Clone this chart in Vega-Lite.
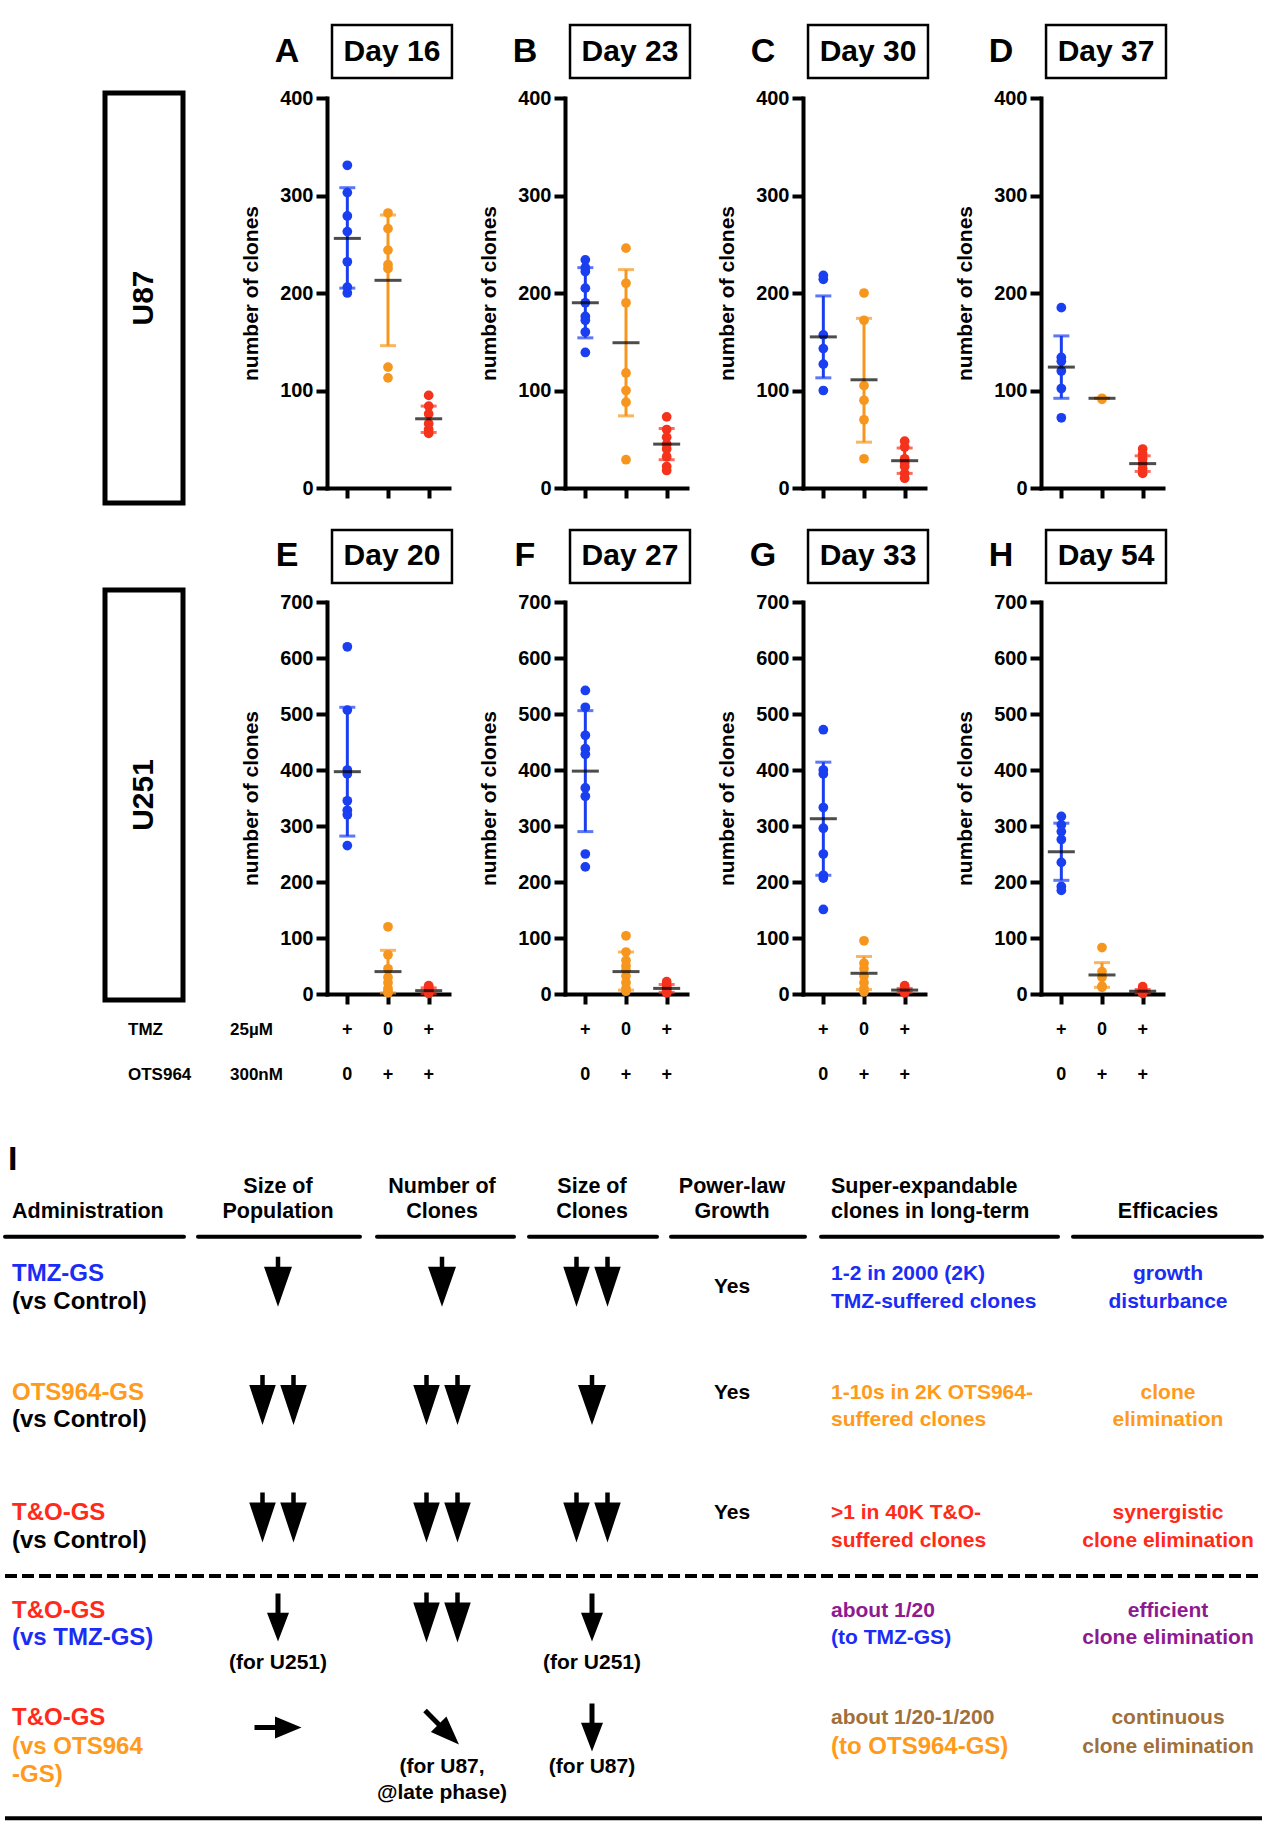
{
"$schema":"https://vega.github.io/schema/vega-lite/v6.json",
"width":1266,"height":1825,"autosize":{"type":"none"},"padding":0,"background":"white",
"config":{"font":"Liberation Sans","view":{"stroke":null},
"text":{"fontWeight":"bold","color":"black"},
"axisY":{"domainWidth":4,"domainColor":"#000","domainCap":"square","tickWidth":4,"tickColor":"#000","tickSize":11,"labelFontSize":20,"labelFontWeight":"bold","labelColor":"#000","labelPadding":3,"titleFontSize":21,"titleFontWeight":"bold","titleColor":"#000","titlePadding":18,"grid":false},
"axisX":{"domainWidth":4,"domainColor":"#000","domainCap":"square","tickWidth":4,"tickColor":"#000","tickSize":10,"labels":false,"grid":false}},
"datasets":{
"pts":[
{"panel":"A","group":"TMZ","value":331},{"panel":"A","group":"TMZ","value":303},{"panel":"A","group":"TMZ","value":279},{"panel":"A","group":"TMZ","value":263},{"panel":"A","group":"TMZ","value":232},{"panel":"A","group":"TMZ","value":206},{"panel":"A","group":"TMZ","value":200},
{"panel":"A","group":"OTS964","value":282},{"panel":"A","group":"OTS964","value":266},{"panel":"A","group":"OTS964","value":244},{"panel":"A","group":"OTS964","value":229},{"panel":"A","group":"OTS964","value":225},{"panel":"A","group":"OTS964","value":124},{"panel":"A","group":"OTS964","value":113},
{"panel":"A","group":"T&O","value":95},{"panel":"A","group":"T&O","value":84},{"panel":"A","group":"T&O","value":76},{"panel":"A","group":"T&O","value":66},{"panel":"A","group":"T&O","value":60},{"panel":"A","group":"T&O","value":56},
{"panel":"B","group":"TMZ","value":234},{"panel":"B","group":"TMZ","value":226},{"panel":"B","group":"TMZ","value":222},{"panel":"B","group":"TMZ","value":205},{"panel":"B","group":"TMZ","value":190},{"panel":"B","group":"TMZ","value":176},{"panel":"B","group":"TMZ","value":172},{"panel":"B","group":"TMZ","value":160},{"panel":"B","group":"TMZ","value":139},
{"panel":"B","group":"OTS964","value":246},{"panel":"B","group":"OTS964","value":210},{"panel":"B","group":"OTS964","value":190},{"panel":"B","group":"OTS964","value":118},{"panel":"B","group":"OTS964","value":100},{"panel":"B","group":"OTS964","value":88},{"panel":"B","group":"OTS964","value":29},
{"panel":"B","group":"T&O","value":73},{"panel":"B","group":"T&O","value":60},{"panel":"B","group":"T&O","value":52},{"panel":"B","group":"T&O","value":45},{"panel":"B","group":"T&O","value":40},{"panel":"B","group":"T&O","value":32},{"panel":"B","group":"T&O","value":22},{"panel":"B","group":"T&O","value":18},
{"panel":"C","group":"TMZ","value":218},{"panel":"C","group":"TMZ","value":214},{"panel":"C","group":"TMZ","value":157},{"panel":"C","group":"TMZ","value":143},{"panel":"C","group":"TMZ","value":127},{"panel":"C","group":"TMZ","value":100},
{"panel":"C","group":"OTS964","value":200},{"panel":"C","group":"OTS964","value":172},{"panel":"C","group":"OTS964","value":105},{"panel":"C","group":"OTS964","value":90},{"panel":"C","group":"OTS964","value":70},{"panel":"C","group":"OTS964","value":30},
{"panel":"C","group":"T&O","value":48},{"panel":"C","group":"T&O","value":42},{"panel":"C","group":"T&O","value":30},{"panel":"C","group":"T&O","value":26},{"panel":"C","group":"T&O","value":22},{"panel":"C","group":"T&O","value":15},{"panel":"C","group":"T&O","value":10},
{"panel":"D","group":"TMZ","value":185},{"panel":"D","group":"TMZ","value":134},{"panel":"D","group":"TMZ","value":130},{"panel":"D","group":"TMZ","value":120},{"panel":"D","group":"TMZ","value":102},{"panel":"D","group":"TMZ","value":72},
{"panel":"D","group":"OTS964","value":92},{"panel":"D","group":"OTS964","value":91},
{"panel":"D","group":"T&O","value":40},{"panel":"D","group":"T&O","value":35},{"panel":"D","group":"T&O","value":30},{"panel":"D","group":"T&O","value":25},{"panel":"D","group":"T&O","value":20},{"panel":"D","group":"T&O","value":15},
{"panel":"E","group":"TMZ","value":620},{"panel":"E","group":"TMZ","value":507},{"panel":"E","group":"TMZ","value":400},{"panel":"E","group":"TMZ","value":393},{"panel":"E","group":"TMZ","value":345},{"panel":"E","group":"TMZ","value":328},{"panel":"E","group":"TMZ","value":320},{"panel":"E","group":"TMZ","value":265},
{"panel":"E","group":"OTS964","value":120},{"panel":"E","group":"OTS964","value":70},{"panel":"E","group":"OTS964","value":45},{"panel":"E","group":"OTS964","value":30},{"panel":"E","group":"OTS964","value":20},{"panel":"E","group":"OTS964","value":10},{"panel":"E","group":"OTS964","value":5},{"panel":"E","group":"OTS964","value":2},
{"panel":"E","group":"T&O","value":15},{"panel":"E","group":"T&O","value":12},{"panel":"E","group":"T&O","value":8},{"panel":"E","group":"T&O","value":5},{"panel":"E","group":"T&O","value":3},{"panel":"E","group":"T&O","value":1},
{"panel":"F","group":"TMZ","value":542},{"panel":"F","group":"TMZ","value":512},{"panel":"F","group":"TMZ","value":462},{"panel":"F","group":"TMZ","value":438},{"panel":"F","group":"TMZ","value":428},{"panel":"F","group":"TMZ","value":368},{"panel":"F","group":"TMZ","value":353},{"panel":"F","group":"TMZ","value":250},{"panel":"F","group":"TMZ","value":227},
{"panel":"F","group":"OTS964","value":104},{"panel":"F","group":"OTS964","value":75},{"panel":"F","group":"OTS964","value":60},{"panel":"F","group":"OTS964","value":50},{"panel":"F","group":"OTS964","value":42},{"panel":"F","group":"OTS964","value":32},{"panel":"F","group":"OTS964","value":20},{"panel":"F","group":"OTS964","value":10},{"panel":"F","group":"OTS964","value":5},
{"panel":"F","group":"T&O","value":22},{"panel":"F","group":"T&O","value":16},{"panel":"F","group":"T&O","value":12},{"panel":"F","group":"T&O","value":8},{"panel":"F","group":"T&O","value":5},{"panel":"F","group":"T&O","value":2},
{"panel":"G","group":"TMZ","value":472},{"panel":"G","group":"TMZ","value":400},{"panel":"G","group":"TMZ","value":393},{"panel":"G","group":"TMZ","value":333},{"panel":"G","group":"TMZ","value":296},{"panel":"G","group":"TMZ","value":250},{"panel":"G","group":"TMZ","value":212},{"panel":"G","group":"TMZ","value":207},{"panel":"G","group":"TMZ","value":151},
{"panel":"G","group":"OTS964","value":95},{"panel":"G","group":"OTS964","value":55},{"panel":"G","group":"OTS964","value":45},{"panel":"G","group":"OTS964","value":32},{"panel":"G","group":"OTS964","value":20},{"panel":"G","group":"OTS964","value":10},{"panel":"G","group":"OTS964","value":4},
{"panel":"G","group":"T&O","value":15},{"panel":"G","group":"T&O","value":10},{"panel":"G","group":"T&O","value":6},{"panel":"G","group":"T&O","value":3},{"panel":"G","group":"T&O","value":2},
{"panel":"H","group":"TMZ","value":317},{"panel":"H","group":"TMZ","value":302},{"panel":"H","group":"TMZ","value":290},{"panel":"H","group":"TMZ","value":276},{"panel":"H","group":"TMZ","value":235},{"panel":"H","group":"TMZ","value":192},{"panel":"H","group":"TMZ","value":185},
{"panel":"H","group":"OTS964","value":83},{"panel":"H","group":"OTS964","value":40},{"panel":"H","group":"OTS964","value":30},{"panel":"H","group":"OTS964","value":14},{"panel":"H","group":"OTS964","value":12},
{"panel":"H","group":"T&O","value":13},{"panel":"H","group":"T&O","value":8},{"panel":"H","group":"T&O","value":5},{"panel":"H","group":"T&O","value":3},{"panel":"H","group":"T&O","value":1}
],
"summ":[
{"panel":"A","group":"TMZ","mean":256,"lo":205,"hi":308},{"panel":"A","group":"OTS964","mean":213,"lo":146,"hi":280},{"panel":"A","group":"T&O","mean":71,"lo":57,"hi":84},
{"panel":"B","group":"TMZ","mean":190,"lo":154,"hi":226},{"panel":"B","group":"OTS964","mean":149,"lo":74,"hi":224},{"panel":"B","group":"T&O","mean":45,"lo":29,"hi":61},
{"panel":"C","group":"TMZ","mean":155,"lo":113,"hi":197},{"panel":"C","group":"OTS964","mean":111,"lo":47,"hi":174},{"panel":"C","group":"T&O","mean":28,"lo":15,"hi":41},
{"panel":"D","group":"TMZ","mean":124,"lo":92,"hi":156},{"panel":"D","group":"OTS964","mean":92,"lo":92,"hi":92},{"panel":"D","group":"T&O","mean":25,"lo":17,"hi":33},
{"panel":"E","group":"TMZ","mean":397,"lo":282,"hi":512},{"panel":"E","group":"OTS964","mean":40,"lo":2,"hi":78},{"panel":"E","group":"T&O","mean":6,"lo":1,"hi":11},
{"panel":"F","group":"TMZ","mean":398,"lo":290,"hi":506},{"panel":"F","group":"OTS964","mean":40,"lo":7,"hi":75},{"panel":"F","group":"T&O","mean":10,"lo":3,"hi":17},
{"panel":"G","group":"TMZ","mean":313,"lo":212,"hi":414},{"panel":"G","group":"OTS964","mean":37,"lo":8,"hi":67},{"panel":"G","group":"T&O","mean":7,"lo":3,"hi":10},
{"panel":"H","group":"TMZ","mean":254,"lo":203,"hi":305},{"panel":"H","group":"OTS964","mean":34,"lo":12,"hi":56},{"panel":"H","group":"T&O","mean":5,"lo":2,"hi":8}
],
"hdr":[{"panel":"A","col":"c1","row":"U87","letter":"A","day":"Day 16"},{"panel":"B","col":"c2","row":"U87","letter":"B","day":"Day 23"},{"panel":"C","col":"c3","row":"U87","letter":"C","day":"Day 30"},{"panel":"D","col":"c4","row":"U87","letter":"D","day":"Day 37"},{"panel":"E","col":"c1","row":"U251","letter":"E","day":"Day 20"},{"panel":"F","col":"c2","row":"U251","letter":"F","day":"Day 27"},{"panel":"G","col":"c3","row":"U251","letter":"G","day":"Day 33"},{"panel":"H","col":"c4","row":"U251","letter":"H","day":"Day 54"}],
"cells":[{"cell":"U87"},{"cell":"U251"}],
"tmzL":[{"factor":"TMZ","part":"name","label":"TMZ"},{"factor":"TMZ","part":"dose","label":"25µM"},{"factor":"OTS964","part":"name","label":"OTS964"},{"factor":"OTS964","part":"dose","label":"300nM"}],
"tmz":[{"group":"TMZ","factor":"TMZ","sign":"+"},{"group":"TMZ","factor":"OTS964","sign":"0"},{"group":"OTS964","factor":"TMZ","sign":"0"},{"group":"OTS964","factor":"OTS964","sign":"+"},{"group":"T&O","factor":"TMZ","sign":"+"},{"group":"T&O","factor":"OTS964","sign":"+"}],
"tbl":[
{"sec":"letter","col":0,"ln":0,"text":"I","tone":"black"},
{"sec":"head","col":0,"ln":2,"text":"Administration","tone":"black"},
{"sec":"head","col":1,"ln":1,"text":"Size of","tone":"black"},
{"sec":"head","col":1,"ln":2,"text":"Population","tone":"black"},
{"sec":"head","col":2,"ln":1,"text":"Number of","tone":"black"},
{"sec":"head","col":2,"ln":2,"text":"Clones","tone":"black"},
{"sec":"head","col":3,"ln":1,"text":"Size of","tone":"black"},
{"sec":"head","col":3,"ln":2,"text":"Clones","tone":"black"},
{"sec":"head","col":4,"ln":1,"text":"Power-law","tone":"black"},
{"sec":"head","col":4,"ln":2,"text":"Growth","tone":"black"},
{"sec":"head","col":5,"ln":1,"text":"Super-expandable","tone":"black"},
{"sec":"head","col":5,"ln":2,"text":"clones in long-term","tone":"black"},
{"sec":"head","col":6,"ln":2,"text":"Efficacies","tone":"black"},
{"sec":"label","col":0,"ln":4,"text":"TMZ-GS","tone":"blue"},
{"sec":"label","col":0,"ln":7,"text":"(vs Control)","tone":"black"},
{"sec":"label","col":0,"ln":8,"text":"OTS964-GS","tone":"orange"},
{"sec":"label","col":0,"ln":10,"text":"(vs Control)","tone":"black"},
{"sec":"label","col":0,"ln":11,"text":"T&O-GS","tone":"red"},
{"sec":"label","col":0,"ln":13,"text":"(vs Control)","tone":"black"},
{"sec":"label","col":0,"ln":15,"text":"T&O-GS","tone":"red"},
{"sec":"label","col":0,"ln":17,"text":"(vs TMZ-GS)","tone":"blue"},
{"sec":"label","col":0,"ln":19,"text":"T&O-GS","tone":"red"},
{"sec":"label","col":0,"ln":21,"text":"(vs OTS964","tone":"orange"},
{"sec":"label","col":0,"ln":23,"text":"-GS)","tone":"orange"},
{"sec":"body","col":4,"ln":6,"text":"Yes","tone":"black"},
{"sec":"body","col":4,"ln":8,"text":"Yes","tone":"black"},
{"sec":"body","col":4,"ln":11,"text":"Yes","tone":"black"},
{"sec":"body","col":5,"ln":4,"text":"1-2 in 2000 (2K)","tone":"blue"},
{"sec":"body","col":5,"ln":7,"text":"TMZ-suffered clones","tone":"blue"},
{"sec":"body","col":5,"ln":8,"text":"1-10s in 2K OTS964-","tone":"orange"},
{"sec":"body","col":5,"ln":10,"text":"suffered clones","tone":"orange"},
{"sec":"body","col":5,"ln":11,"text":">1 in 40K T&O-","tone":"red"},
{"sec":"body","col":5,"ln":13,"text":"suffered clones","tone":"red"},
{"sec":"body","col":5,"ln":15,"text":"about 1/20","tone":"purple"},
{"sec":"body","col":5,"ln":17,"text":"(to TMZ-GS)","tone":"blue"},
{"sec":"body","col":5,"ln":19,"text":"about 1/20-1/200","tone":"brown"},
{"sec":"big","col":5,"ln":21,"text":"(to OTS964-GS)","tone":"orange"},
{"sec":"body","col":6,"ln":4,"text":"growth","tone":"blue"},
{"sec":"body","col":6,"ln":7,"text":"disturbance","tone":"blue"},
{"sec":"body","col":6,"ln":8,"text":"clone","tone":"orange"},
{"sec":"body","col":6,"ln":10,"text":"elimination","tone":"orange"},
{"sec":"body","col":6,"ln":11,"text":"synergistic","tone":"red"},
{"sec":"body","col":6,"ln":13,"text":"clone elimination","tone":"red"},
{"sec":"body","col":6,"ln":15,"text":"efficient","tone":"purple"},
{"sec":"body","col":6,"ln":17,"text":"clone elimination","tone":"purple"},
{"sec":"body","col":6,"ln":19,"text":"continuous","tone":"brown"},
{"sec":"body","col":6,"ln":21,"text":"clone elimination","tone":"brown"},
{"sec":"body","col":1,"ln":18,"text":"(for U251)","tone":"black"},
{"sec":"body","col":3,"ln":18,"text":"(for U251)","tone":"black"},
{"sec":"body","col":2,"ln":22,"text":"(for U87,","tone":"black"},
{"sec":"body","col":2,"ln":24,"text":"@late phase)","tone":"black"},
{"sec":"body","col":3,"ln":22,"text":"(for U87)","tone":"black"}
],
"arrows":[
{"col":1,"ln":5,"arrow":"down1"},{"col":2,"ln":5,"arrow":"down1"},{"col":3,"ln":5,"arrow":"down2"},
{"col":1,"ln":9,"arrow":"down2"},{"col":2,"ln":9,"arrow":"down2"},{"col":3,"ln":9,"arrow":"down1"},
{"col":1,"ln":12,"arrow":"down2"},{"col":2,"ln":12,"arrow":"down2"},{"col":3,"ln":12,"arrow":"down2"},
{"col":1,"ln":16,"arrow":"thin"},{"col":2,"ln":16,"arrow":"down2"},{"col":3,"ln":16,"arrow":"thin"},
{"col":1,"ln":20,"arrow":"right"},{"col":2,"ln":20,"arrow":"diag"},{"col":3,"ln":20,"arrow":"thin"}
],
"rules":[
{"kind":"head","a":0,"b":1,"ln":3},{"kind":"head","a":2,"b":3,"ln":3},{"kind":"head","a":4,"b":5,"ln":3},{"kind":"head","a":6,"b":7,"ln":3},{"kind":"head","a":8,"b":9,"ln":3},{"kind":"head","a":10,"b":11,"ln":3},{"kind":"head","a":12,"b":13,"ln":3},
{"kind":"dash","a":0,"b":13,"ln":14},{"kind":"foot","a":0,"b":13,"ln":25}
]
},
"resolve":{"scale":{"x":"independent","y":"independent","color":"independent","shape":"independent"}},
"layer":[
{"layer":[
 {"data":{"name":"summ"},"transform":[{"filter":"datum.panel==='A'"}],"mark":{"type":"rule","strokeWidth":3},"encoding":{"x":{"field":"group","type":"nominal","title":null,"scale":{"type":"point","domain":["TMZ","OTS964","T&O"],"range":[327,449],"padding":0.5},"axis":{"orient":"bottom","offset":-1337,"labels":false,"title":null}},"y":{"field":"lo","type":"quantitative","title":"number of clones","scale":{"domain":[0,400],"range":[488,98],"nice":false,"zero":false},"axis":{"orient":"left","offset":-327,"values":[0,100,200,300,400]}},"y2":{"field":"hi"},"color":{"field":"group","type":"nominal","scale":{"domain":["TMZ","OTS964","T&O"],"range":["#1a3ff0","#f7961e","#f5321c"]},"legend":null}}},
 {"data":{"name":"summ"},"transform":[{"filter":"datum.panel==='A'"}],"mark":{"type":"tick","size":16,"thickness":3},"encoding":{"x":{"field":"group","type":"nominal","title":null,"scale":{"type":"point","domain":["TMZ","OTS964","T&O"],"range":[327,449],"padding":0.5},"axis":{"orient":"bottom","offset":-1337,"labels":false,"title":null}},"y":{"field":"hi","type":"quantitative","title":"number of clones","scale":{"domain":[0,400],"range":[488,98],"nice":false,"zero":false},"axis":{"orient":"left","offset":-327,"values":[0,100,200,300,400]}},"color":{"field":"group","type":"nominal","scale":{"domain":["TMZ","OTS964","T&O"],"range":["#1a3ff0","#f7961e","#f5321c"]},"legend":null}}},
 {"data":{"name":"summ"},"transform":[{"filter":"datum.panel==='A'"}],"mark":{"type":"tick","size":16,"thickness":3},"encoding":{"x":{"field":"group","type":"nominal","title":null,"scale":{"type":"point","domain":["TMZ","OTS964","T&O"],"range":[327,449],"padding":0.5},"axis":{"orient":"bottom","offset":-1337,"labels":false,"title":null}},"y":{"field":"lo","type":"quantitative","title":"number of clones","scale":{"domain":[0,400],"range":[488,98],"nice":false,"zero":false},"axis":{"orient":"left","offset":-327,"values":[0,100,200,300,400]}},"color":{"field":"group","type":"nominal","scale":{"domain":["TMZ","OTS964","T&O"],"range":["#1a3ff0","#f7961e","#f5321c"]},"legend":null}}},
 {"data":{"name":"pts"},"transform":[{"filter":"datum.panel==='A'"}],"mark":{"type":"point","filled":true,"size":95,"opacity":1},"encoding":{"x":{"field":"group","type":"nominal","title":null,"scale":{"type":"point","domain":["TMZ","OTS964","T&O"],"range":[327,449],"padding":0.5},"axis":{"orient":"bottom","offset":-1337,"labels":false,"title":null}},"y":{"field":"value","type":"quantitative","title":"number of clones","scale":{"domain":[0,400],"range":[488,98],"nice":false,"zero":false},"axis":{"orient":"left","offset":-327,"values":[0,100,200,300,400]}},"color":{"field":"group","type":"nominal","scale":{"domain":["TMZ","OTS964","T&O"],"range":["#1a3ff0","#f7961e","#f5321c"]},"legend":null}}},
 {"data":{"name":"summ"},"transform":[{"filter":"datum.panel==='A'"}],"mark":{"type":"tick","size":27,"thickness":3,"color":"black"},"encoding":{"x":{"field":"group","type":"nominal","title":null,"scale":{"type":"point","domain":["TMZ","OTS964","T&O"],"range":[327,449],"padding":0.5},"axis":{"orient":"bottom","offset":-1337,"labels":false,"title":null}},"y":{"field":"mean","type":"quantitative","title":"number of clones","scale":{"domain":[0,400],"range":[488,98],"nice":false,"zero":false},"axis":{"orient":"left","offset":-327,"values":[0,100,200,300,400]}}}}
]},
{"layer":[
 {"data":{"name":"summ"},"transform":[{"filter":"datum.panel==='B'"}],"mark":{"type":"rule","strokeWidth":3},"encoding":{"x":{"field":"group","type":"nominal","title":null,"scale":{"type":"point","domain":["TMZ","OTS964","T&O"],"range":[565,687],"padding":0.5},"axis":{"orient":"bottom","offset":-1337,"labels":false,"title":null}},"y":{"field":"lo","type":"quantitative","title":"number of clones","scale":{"domain":[0,400],"range":[488,98],"nice":false,"zero":false},"axis":{"orient":"left","offset":-565,"values":[0,100,200,300,400]}},"y2":{"field":"hi"},"color":{"field":"group","type":"nominal","scale":{"domain":["TMZ","OTS964","T&O"],"range":["#1a3ff0","#f7961e","#f5321c"]},"legend":null}}},
 {"data":{"name":"summ"},"transform":[{"filter":"datum.panel==='B'"}],"mark":{"type":"tick","size":16,"thickness":3},"encoding":{"x":{"field":"group","type":"nominal","title":null,"scale":{"type":"point","domain":["TMZ","OTS964","T&O"],"range":[565,687],"padding":0.5},"axis":{"orient":"bottom","offset":-1337,"labels":false,"title":null}},"y":{"field":"hi","type":"quantitative","title":"number of clones","scale":{"domain":[0,400],"range":[488,98],"nice":false,"zero":false},"axis":{"orient":"left","offset":-565,"values":[0,100,200,300,400]}},"color":{"field":"group","type":"nominal","scale":{"domain":["TMZ","OTS964","T&O"],"range":["#1a3ff0","#f7961e","#f5321c"]},"legend":null}}},
 {"data":{"name":"summ"},"transform":[{"filter":"datum.panel==='B'"}],"mark":{"type":"tick","size":16,"thickness":3},"encoding":{"x":{"field":"group","type":"nominal","title":null,"scale":{"type":"point","domain":["TMZ","OTS964","T&O"],"range":[565,687],"padding":0.5},"axis":{"orient":"bottom","offset":-1337,"labels":false,"title":null}},"y":{"field":"lo","type":"quantitative","title":"number of clones","scale":{"domain":[0,400],"range":[488,98],"nice":false,"zero":false},"axis":{"orient":"left","offset":-565,"values":[0,100,200,300,400]}},"color":{"field":"group","type":"nominal","scale":{"domain":["TMZ","OTS964","T&O"],"range":["#1a3ff0","#f7961e","#f5321c"]},"legend":null}}},
 {"data":{"name":"pts"},"transform":[{"filter":"datum.panel==='B'"}],"mark":{"type":"point","filled":true,"size":95,"opacity":1},"encoding":{"x":{"field":"group","type":"nominal","title":null,"scale":{"type":"point","domain":["TMZ","OTS964","T&O"],"range":[565,687],"padding":0.5},"axis":{"orient":"bottom","offset":-1337,"labels":false,"title":null}},"y":{"field":"value","type":"quantitative","title":"number of clones","scale":{"domain":[0,400],"range":[488,98],"nice":false,"zero":false},"axis":{"orient":"left","offset":-565,"values":[0,100,200,300,400]}},"color":{"field":"group","type":"nominal","scale":{"domain":["TMZ","OTS964","T&O"],"range":["#1a3ff0","#f7961e","#f5321c"]},"legend":null}}},
 {"data":{"name":"summ"},"transform":[{"filter":"datum.panel==='B'"}],"mark":{"type":"tick","size":27,"thickness":3,"color":"black"},"encoding":{"x":{"field":"group","type":"nominal","title":null,"scale":{"type":"point","domain":["TMZ","OTS964","T&O"],"range":[565,687],"padding":0.5},"axis":{"orient":"bottom","offset":-1337,"labels":false,"title":null}},"y":{"field":"mean","type":"quantitative","title":"number of clones","scale":{"domain":[0,400],"range":[488,98],"nice":false,"zero":false},"axis":{"orient":"left","offset":-565,"values":[0,100,200,300,400]}}}}
]},
{"layer":[
 {"data":{"name":"summ"},"transform":[{"filter":"datum.panel==='C'"}],"mark":{"type":"rule","strokeWidth":3},"encoding":{"x":{"field":"group","type":"nominal","title":null,"scale":{"type":"point","domain":["TMZ","OTS964","T&O"],"range":[803,925],"padding":0.5},"axis":{"orient":"bottom","offset":-1337,"labels":false,"title":null}},"y":{"field":"lo","type":"quantitative","title":"number of clones","scale":{"domain":[0,400],"range":[488,98],"nice":false,"zero":false},"axis":{"orient":"left","offset":-803,"values":[0,100,200,300,400]}},"y2":{"field":"hi"},"color":{"field":"group","type":"nominal","scale":{"domain":["TMZ","OTS964","T&O"],"range":["#1a3ff0","#f7961e","#f5321c"]},"legend":null}}},
 {"data":{"name":"summ"},"transform":[{"filter":"datum.panel==='C'"}],"mark":{"type":"tick","size":16,"thickness":3},"encoding":{"x":{"field":"group","type":"nominal","title":null,"scale":{"type":"point","domain":["TMZ","OTS964","T&O"],"range":[803,925],"padding":0.5},"axis":{"orient":"bottom","offset":-1337,"labels":false,"title":null}},"y":{"field":"hi","type":"quantitative","title":"number of clones","scale":{"domain":[0,400],"range":[488,98],"nice":false,"zero":false},"axis":{"orient":"left","offset":-803,"values":[0,100,200,300,400]}},"color":{"field":"group","type":"nominal","scale":{"domain":["TMZ","OTS964","T&O"],"range":["#1a3ff0","#f7961e","#f5321c"]},"legend":null}}},
 {"data":{"name":"summ"},"transform":[{"filter":"datum.panel==='C'"}],"mark":{"type":"tick","size":16,"thickness":3},"encoding":{"x":{"field":"group","type":"nominal","title":null,"scale":{"type":"point","domain":["TMZ","OTS964","T&O"],"range":[803,925],"padding":0.5},"axis":{"orient":"bottom","offset":-1337,"labels":false,"title":null}},"y":{"field":"lo","type":"quantitative","title":"number of clones","scale":{"domain":[0,400],"range":[488,98],"nice":false,"zero":false},"axis":{"orient":"left","offset":-803,"values":[0,100,200,300,400]}},"color":{"field":"group","type":"nominal","scale":{"domain":["TMZ","OTS964","T&O"],"range":["#1a3ff0","#f7961e","#f5321c"]},"legend":null}}},
 {"data":{"name":"pts"},"transform":[{"filter":"datum.panel==='C'"}],"mark":{"type":"point","filled":true,"size":95,"opacity":1},"encoding":{"x":{"field":"group","type":"nominal","title":null,"scale":{"type":"point","domain":["TMZ","OTS964","T&O"],"range":[803,925],"padding":0.5},"axis":{"orient":"bottom","offset":-1337,"labels":false,"title":null}},"y":{"field":"value","type":"quantitative","title":"number of clones","scale":{"domain":[0,400],"range":[488,98],"nice":false,"zero":false},"axis":{"orient":"left","offset":-803,"values":[0,100,200,300,400]}},"color":{"field":"group","type":"nominal","scale":{"domain":["TMZ","OTS964","T&O"],"range":["#1a3ff0","#f7961e","#f5321c"]},"legend":null}}},
 {"data":{"name":"summ"},"transform":[{"filter":"datum.panel==='C'"}],"mark":{"type":"tick","size":27,"thickness":3,"color":"black"},"encoding":{"x":{"field":"group","type":"nominal","title":null,"scale":{"type":"point","domain":["TMZ","OTS964","T&O"],"range":[803,925],"padding":0.5},"axis":{"orient":"bottom","offset":-1337,"labels":false,"title":null}},"y":{"field":"mean","type":"quantitative","title":"number of clones","scale":{"domain":[0,400],"range":[488,98],"nice":false,"zero":false},"axis":{"orient":"left","offset":-803,"values":[0,100,200,300,400]}}}}
]},
{"layer":[
 {"data":{"name":"summ"},"transform":[{"filter":"datum.panel==='D'"}],"mark":{"type":"rule","strokeWidth":3},"encoding":{"x":{"field":"group","type":"nominal","title":null,"scale":{"type":"point","domain":["TMZ","OTS964","T&O"],"range":[1041,1163],"padding":0.5},"axis":{"orient":"bottom","offset":-1337,"labels":false,"title":null}},"y":{"field":"lo","type":"quantitative","title":"number of clones","scale":{"domain":[0,400],"range":[488,98],"nice":false,"zero":false},"axis":{"orient":"left","offset":-1041,"values":[0,100,200,300,400]}},"y2":{"field":"hi"},"color":{"field":"group","type":"nominal","scale":{"domain":["TMZ","OTS964","T&O"],"range":["#1a3ff0","#f7961e","#f5321c"]},"legend":null}}},
 {"data":{"name":"summ"},"transform":[{"filter":"datum.panel==='D'"}],"mark":{"type":"tick","size":16,"thickness":3},"encoding":{"x":{"field":"group","type":"nominal","title":null,"scale":{"type":"point","domain":["TMZ","OTS964","T&O"],"range":[1041,1163],"padding":0.5},"axis":{"orient":"bottom","offset":-1337,"labels":false,"title":null}},"y":{"field":"hi","type":"quantitative","title":"number of clones","scale":{"domain":[0,400],"range":[488,98],"nice":false,"zero":false},"axis":{"orient":"left","offset":-1041,"values":[0,100,200,300,400]}},"color":{"field":"group","type":"nominal","scale":{"domain":["TMZ","OTS964","T&O"],"range":["#1a3ff0","#f7961e","#f5321c"]},"legend":null}}},
 {"data":{"name":"summ"},"transform":[{"filter":"datum.panel==='D'"}],"mark":{"type":"tick","size":16,"thickness":3},"encoding":{"x":{"field":"group","type":"nominal","title":null,"scale":{"type":"point","domain":["TMZ","OTS964","T&O"],"range":[1041,1163],"padding":0.5},"axis":{"orient":"bottom","offset":-1337,"labels":false,"title":null}},"y":{"field":"lo","type":"quantitative","title":"number of clones","scale":{"domain":[0,400],"range":[488,98],"nice":false,"zero":false},"axis":{"orient":"left","offset":-1041,"values":[0,100,200,300,400]}},"color":{"field":"group","type":"nominal","scale":{"domain":["TMZ","OTS964","T&O"],"range":["#1a3ff0","#f7961e","#f5321c"]},"legend":null}}},
 {"data":{"name":"pts"},"transform":[{"filter":"datum.panel==='D'"}],"mark":{"type":"point","filled":true,"size":95,"opacity":1},"encoding":{"x":{"field":"group","type":"nominal","title":null,"scale":{"type":"point","domain":["TMZ","OTS964","T&O"],"range":[1041,1163],"padding":0.5},"axis":{"orient":"bottom","offset":-1337,"labels":false,"title":null}},"y":{"field":"value","type":"quantitative","title":"number of clones","scale":{"domain":[0,400],"range":[488,98],"nice":false,"zero":false},"axis":{"orient":"left","offset":-1041,"values":[0,100,200,300,400]}},"color":{"field":"group","type":"nominal","scale":{"domain":["TMZ","OTS964","T&O"],"range":["#1a3ff0","#f7961e","#f5321c"]},"legend":null}}},
 {"data":{"name":"summ"},"transform":[{"filter":"datum.panel==='D'"}],"mark":{"type":"tick","size":27,"thickness":3,"color":"black"},"encoding":{"x":{"field":"group","type":"nominal","title":null,"scale":{"type":"point","domain":["TMZ","OTS964","T&O"],"range":[1041,1163],"padding":0.5},"axis":{"orient":"bottom","offset":-1337,"labels":false,"title":null}},"y":{"field":"mean","type":"quantitative","title":"number of clones","scale":{"domain":[0,400],"range":[488,98],"nice":false,"zero":false},"axis":{"orient":"left","offset":-1041,"values":[0,100,200,300,400]}}}}
]},
{"layer":[
 {"data":{"name":"summ"},"transform":[{"filter":"datum.panel==='E'"}],"mark":{"type":"rule","strokeWidth":3},"encoding":{"x":{"field":"group","type":"nominal","title":null,"scale":{"type":"point","domain":["TMZ","OTS964","T&O"],"range":[327,449],"padding":0.5},"axis":{"orient":"bottom","offset":-831,"labels":false,"title":null}},"y":{"field":"lo","type":"quantitative","title":"number of clones","scale":{"domain":[0,700],"range":[994,602],"nice":false,"zero":false},"axis":{"orient":"left","offset":-327,"values":[0,100,200,300,400,500,600,700]}},"y2":{"field":"hi"},"color":{"field":"group","type":"nominal","scale":{"domain":["TMZ","OTS964","T&O"],"range":["#1a3ff0","#f7961e","#f5321c"]},"legend":null}}},
 {"data":{"name":"summ"},"transform":[{"filter":"datum.panel==='E'"}],"mark":{"type":"tick","size":16,"thickness":3},"encoding":{"x":{"field":"group","type":"nominal","title":null,"scale":{"type":"point","domain":["TMZ","OTS964","T&O"],"range":[327,449],"padding":0.5},"axis":{"orient":"bottom","offset":-831,"labels":false,"title":null}},"y":{"field":"hi","type":"quantitative","title":"number of clones","scale":{"domain":[0,700],"range":[994,602],"nice":false,"zero":false},"axis":{"orient":"left","offset":-327,"values":[0,100,200,300,400,500,600,700]}},"color":{"field":"group","type":"nominal","scale":{"domain":["TMZ","OTS964","T&O"],"range":["#1a3ff0","#f7961e","#f5321c"]},"legend":null}}},
 {"data":{"name":"summ"},"transform":[{"filter":"datum.panel==='E'"}],"mark":{"type":"tick","size":16,"thickness":3},"encoding":{"x":{"field":"group","type":"nominal","title":null,"scale":{"type":"point","domain":["TMZ","OTS964","T&O"],"range":[327,449],"padding":0.5},"axis":{"orient":"bottom","offset":-831,"labels":false,"title":null}},"y":{"field":"lo","type":"quantitative","title":"number of clones","scale":{"domain":[0,700],"range":[994,602],"nice":false,"zero":false},"axis":{"orient":"left","offset":-327,"values":[0,100,200,300,400,500,600,700]}},"color":{"field":"group","type":"nominal","scale":{"domain":["TMZ","OTS964","T&O"],"range":["#1a3ff0","#f7961e","#f5321c"]},"legend":null}}},
 {"data":{"name":"pts"},"transform":[{"filter":"datum.panel==='E'"}],"mark":{"type":"point","filled":true,"size":95,"opacity":1},"encoding":{"x":{"field":"group","type":"nominal","title":null,"scale":{"type":"point","domain":["TMZ","OTS964","T&O"],"range":[327,449],"padding":0.5},"axis":{"orient":"bottom","offset":-831,"labels":false,"title":null}},"y":{"field":"value","type":"quantitative","title":"number of clones","scale":{"domain":[0,700],"range":[994,602],"nice":false,"zero":false},"axis":{"orient":"left","offset":-327,"values":[0,100,200,300,400,500,600,700]}},"color":{"field":"group","type":"nominal","scale":{"domain":["TMZ","OTS964","T&O"],"range":["#1a3ff0","#f7961e","#f5321c"]},"legend":null}}},
 {"data":{"name":"summ"},"transform":[{"filter":"datum.panel==='E'"}],"mark":{"type":"tick","size":27,"thickness":3,"color":"black"},"encoding":{"x":{"field":"group","type":"nominal","title":null,"scale":{"type":"point","domain":["TMZ","OTS964","T&O"],"range":[327,449],"padding":0.5},"axis":{"orient":"bottom","offset":-831,"labels":false,"title":null}},"y":{"field":"mean","type":"quantitative","title":"number of clones","scale":{"domain":[0,700],"range":[994,602],"nice":false,"zero":false},"axis":{"orient":"left","offset":-327,"values":[0,100,200,300,400,500,600,700]}}}}
]},
{"layer":[
 {"data":{"name":"summ"},"transform":[{"filter":"datum.panel==='F'"}],"mark":{"type":"rule","strokeWidth":3},"encoding":{"x":{"field":"group","type":"nominal","title":null,"scale":{"type":"point","domain":["TMZ","OTS964","T&O"],"range":[565,687],"padding":0.5},"axis":{"orient":"bottom","offset":-831,"labels":false,"title":null}},"y":{"field":"lo","type":"quantitative","title":"number of clones","scale":{"domain":[0,700],"range":[994,602],"nice":false,"zero":false},"axis":{"orient":"left","offset":-565,"values":[0,100,200,300,400,500,600,700]}},"y2":{"field":"hi"},"color":{"field":"group","type":"nominal","scale":{"domain":["TMZ","OTS964","T&O"],"range":["#1a3ff0","#f7961e","#f5321c"]},"legend":null}}},
 {"data":{"name":"summ"},"transform":[{"filter":"datum.panel==='F'"}],"mark":{"type":"tick","size":16,"thickness":3},"encoding":{"x":{"field":"group","type":"nominal","title":null,"scale":{"type":"point","domain":["TMZ","OTS964","T&O"],"range":[565,687],"padding":0.5},"axis":{"orient":"bottom","offset":-831,"labels":false,"title":null}},"y":{"field":"hi","type":"quantitative","title":"number of clones","scale":{"domain":[0,700],"range":[994,602],"nice":false,"zero":false},"axis":{"orient":"left","offset":-565,"values":[0,100,200,300,400,500,600,700]}},"color":{"field":"group","type":"nominal","scale":{"domain":["TMZ","OTS964","T&O"],"range":["#1a3ff0","#f7961e","#f5321c"]},"legend":null}}},
 {"data":{"name":"summ"},"transform":[{"filter":"datum.panel==='F'"}],"mark":{"type":"tick","size":16,"thickness":3},"encoding":{"x":{"field":"group","type":"nominal","title":null,"scale":{"type":"point","domain":["TMZ","OTS964","T&O"],"range":[565,687],"padding":0.5},"axis":{"orient":"bottom","offset":-831,"labels":false,"title":null}},"y":{"field":"lo","type":"quantitative","title":"number of clones","scale":{"domain":[0,700],"range":[994,602],"nice":false,"zero":false},"axis":{"orient":"left","offset":-565,"values":[0,100,200,300,400,500,600,700]}},"color":{"field":"group","type":"nominal","scale":{"domain":["TMZ","OTS964","T&O"],"range":["#1a3ff0","#f7961e","#f5321c"]},"legend":null}}},
 {"data":{"name":"pts"},"transform":[{"filter":"datum.panel==='F'"}],"mark":{"type":"point","filled":true,"size":95,"opacity":1},"encoding":{"x":{"field":"group","type":"nominal","title":null,"scale":{"type":"point","domain":["TMZ","OTS964","T&O"],"range":[565,687],"padding":0.5},"axis":{"orient":"bottom","offset":-831,"labels":false,"title":null}},"y":{"field":"value","type":"quantitative","title":"number of clones","scale":{"domain":[0,700],"range":[994,602],"nice":false,"zero":false},"axis":{"orient":"left","offset":-565,"values":[0,100,200,300,400,500,600,700]}},"color":{"field":"group","type":"nominal","scale":{"domain":["TMZ","OTS964","T&O"],"range":["#1a3ff0","#f7961e","#f5321c"]},"legend":null}}},
 {"data":{"name":"summ"},"transform":[{"filter":"datum.panel==='F'"}],"mark":{"type":"tick","size":27,"thickness":3,"color":"black"},"encoding":{"x":{"field":"group","type":"nominal","title":null,"scale":{"type":"point","domain":["TMZ","OTS964","T&O"],"range":[565,687],"padding":0.5},"axis":{"orient":"bottom","offset":-831,"labels":false,"title":null}},"y":{"field":"mean","type":"quantitative","title":"number of clones","scale":{"domain":[0,700],"range":[994,602],"nice":false,"zero":false},"axis":{"orient":"left","offset":-565,"values":[0,100,200,300,400,500,600,700]}}}}
]},
{"layer":[
 {"data":{"name":"summ"},"transform":[{"filter":"datum.panel==='G'"}],"mark":{"type":"rule","strokeWidth":3},"encoding":{"x":{"field":"group","type":"nominal","title":null,"scale":{"type":"point","domain":["TMZ","OTS964","T&O"],"range":[803,925],"padding":0.5},"axis":{"orient":"bottom","offset":-831,"labels":false,"title":null}},"y":{"field":"lo","type":"quantitative","title":"number of clones","scale":{"domain":[0,700],"range":[994,602],"nice":false,"zero":false},"axis":{"orient":"left","offset":-803,"values":[0,100,200,300,400,500,600,700]}},"y2":{"field":"hi"},"color":{"field":"group","type":"nominal","scale":{"domain":["TMZ","OTS964","T&O"],"range":["#1a3ff0","#f7961e","#f5321c"]},"legend":null}}},
 {"data":{"name":"summ"},"transform":[{"filter":"datum.panel==='G'"}],"mark":{"type":"tick","size":16,"thickness":3},"encoding":{"x":{"field":"group","type":"nominal","title":null,"scale":{"type":"point","domain":["TMZ","OTS964","T&O"],"range":[803,925],"padding":0.5},"axis":{"orient":"bottom","offset":-831,"labels":false,"title":null}},"y":{"field":"hi","type":"quantitative","title":"number of clones","scale":{"domain":[0,700],"range":[994,602],"nice":false,"zero":false},"axis":{"orient":"left","offset":-803,"values":[0,100,200,300,400,500,600,700]}},"color":{"field":"group","type":"nominal","scale":{"domain":["TMZ","OTS964","T&O"],"range":["#1a3ff0","#f7961e","#f5321c"]},"legend":null}}},
 {"data":{"name":"summ"},"transform":[{"filter":"datum.panel==='G'"}],"mark":{"type":"tick","size":16,"thickness":3},"encoding":{"x":{"field":"group","type":"nominal","title":null,"scale":{"type":"point","domain":["TMZ","OTS964","T&O"],"range":[803,925],"padding":0.5},"axis":{"orient":"bottom","offset":-831,"labels":false,"title":null}},"y":{"field":"lo","type":"quantitative","title":"number of clones","scale":{"domain":[0,700],"range":[994,602],"nice":false,"zero":false},"axis":{"orient":"left","offset":-803,"values":[0,100,200,300,400,500,600,700]}},"color":{"field":"group","type":"nominal","scale":{"domain":["TMZ","OTS964","T&O"],"range":["#1a3ff0","#f7961e","#f5321c"]},"legend":null}}},
 {"data":{"name":"pts"},"transform":[{"filter":"datum.panel==='G'"}],"mark":{"type":"point","filled":true,"size":95,"opacity":1},"encoding":{"x":{"field":"group","type":"nominal","title":null,"scale":{"type":"point","domain":["TMZ","OTS964","T&O"],"range":[803,925],"padding":0.5},"axis":{"orient":"bottom","offset":-831,"labels":false,"title":null}},"y":{"field":"value","type":"quantitative","title":"number of clones","scale":{"domain":[0,700],"range":[994,602],"nice":false,"zero":false},"axis":{"orient":"left","offset":-803,"values":[0,100,200,300,400,500,600,700]}},"color":{"field":"group","type":"nominal","scale":{"domain":["TMZ","OTS964","T&O"],"range":["#1a3ff0","#f7961e","#f5321c"]},"legend":null}}},
 {"data":{"name":"summ"},"transform":[{"filter":"datum.panel==='G'"}],"mark":{"type":"tick","size":27,"thickness":3,"color":"black"},"encoding":{"x":{"field":"group","type":"nominal","title":null,"scale":{"type":"point","domain":["TMZ","OTS964","T&O"],"range":[803,925],"padding":0.5},"axis":{"orient":"bottom","offset":-831,"labels":false,"title":null}},"y":{"field":"mean","type":"quantitative","title":"number of clones","scale":{"domain":[0,700],"range":[994,602],"nice":false,"zero":false},"axis":{"orient":"left","offset":-803,"values":[0,100,200,300,400,500,600,700]}}}}
]},
{"layer":[
 {"data":{"name":"summ"},"transform":[{"filter":"datum.panel==='H'"}],"mark":{"type":"rule","strokeWidth":3},"encoding":{"x":{"field":"group","type":"nominal","title":null,"scale":{"type":"point","domain":["TMZ","OTS964","T&O"],"range":[1041,1163],"padding":0.5},"axis":{"orient":"bottom","offset":-831,"labels":false,"title":null}},"y":{"field":"lo","type":"quantitative","title":"number of clones","scale":{"domain":[0,700],"range":[994,602],"nice":false,"zero":false},"axis":{"orient":"left","offset":-1041,"values":[0,100,200,300,400,500,600,700]}},"y2":{"field":"hi"},"color":{"field":"group","type":"nominal","scale":{"domain":["TMZ","OTS964","T&O"],"range":["#1a3ff0","#f7961e","#f5321c"]},"legend":null}}},
 {"data":{"name":"summ"},"transform":[{"filter":"datum.panel==='H'"}],"mark":{"type":"tick","size":16,"thickness":3},"encoding":{"x":{"field":"group","type":"nominal","title":null,"scale":{"type":"point","domain":["TMZ","OTS964","T&O"],"range":[1041,1163],"padding":0.5},"axis":{"orient":"bottom","offset":-831,"labels":false,"title":null}},"y":{"field":"hi","type":"quantitative","title":"number of clones","scale":{"domain":[0,700],"range":[994,602],"nice":false,"zero":false},"axis":{"orient":"left","offset":-1041,"values":[0,100,200,300,400,500,600,700]}},"color":{"field":"group","type":"nominal","scale":{"domain":["TMZ","OTS964","T&O"],"range":["#1a3ff0","#f7961e","#f5321c"]},"legend":null}}},
 {"data":{"name":"summ"},"transform":[{"filter":"datum.panel==='H'"}],"mark":{"type":"tick","size":16,"thickness":3},"encoding":{"x":{"field":"group","type":"nominal","title":null,"scale":{"type":"point","domain":["TMZ","OTS964","T&O"],"range":[1041,1163],"padding":0.5},"axis":{"orient":"bottom","offset":-831,"labels":false,"title":null}},"y":{"field":"lo","type":"quantitative","title":"number of clones","scale":{"domain":[0,700],"range":[994,602],"nice":false,"zero":false},"axis":{"orient":"left","offset":-1041,"values":[0,100,200,300,400,500,600,700]}},"color":{"field":"group","type":"nominal","scale":{"domain":["TMZ","OTS964","T&O"],"range":["#1a3ff0","#f7961e","#f5321c"]},"legend":null}}},
 {"data":{"name":"pts"},"transform":[{"filter":"datum.panel==='H'"}],"mark":{"type":"point","filled":true,"size":95,"opacity":1},"encoding":{"x":{"field":"group","type":"nominal","title":null,"scale":{"type":"point","domain":["TMZ","OTS964","T&O"],"range":[1041,1163],"padding":0.5},"axis":{"orient":"bottom","offset":-831,"labels":false,"title":null}},"y":{"field":"value","type":"quantitative","title":"number of clones","scale":{"domain":[0,700],"range":[994,602],"nice":false,"zero":false},"axis":{"orient":"left","offset":-1041,"values":[0,100,200,300,400,500,600,700]}},"color":{"field":"group","type":"nominal","scale":{"domain":["TMZ","OTS964","T&O"],"range":["#1a3ff0","#f7961e","#f5321c"]},"legend":null}}},
 {"data":{"name":"summ"},"transform":[{"filter":"datum.panel==='H'"}],"mark":{"type":"tick","size":27,"thickness":3,"color":"black"},"encoding":{"x":{"field":"group","type":"nominal","title":null,"scale":{"type":"point","domain":["TMZ","OTS964","T&O"],"range":[1041,1163],"padding":0.5},"axis":{"orient":"bottom","offset":-831,"labels":false,"title":null}},"y":{"field":"mean","type":"quantitative","title":"number of clones","scale":{"domain":[0,700],"range":[994,602],"nice":false,"zero":false},"axis":{"orient":"left","offset":-1041,"values":[0,100,200,300,400,500,600,700]}}}}
]},
{"data":{"name":"hdr"},"mark":{"type":"rect","filled":false,"stroke":"black","strokeWidth":2.5},"encoding":{"x":{"field":"col","type":"nominal","scale":{"type":"band","domain":["c1","c2","c3","c4"],"range":[332,1166],"paddingInner":0.496,"paddingOuter":0},"axis":null},"y":{"field":"row","type":"nominal","scale":{"type":"band","domain":["U87","U251"],"range":[25,583],"paddingInner":0.895,"paddingOuter":0},"axis":null}}},
{"data":{"name":"hdr"},"mark":{"type":"text","fontSize":30,"baseline":"middle"},"encoding":{"x":{"field":"col","type":"nominal","scale":{"type":"band","domain":["c1","c2","c3","c4"],"range":[332,1166],"paddingInner":0.496,"paddingOuter":0},"axis":null},"y":{"field":"row","type":"nominal","scale":{"type":"band","domain":["U87","U251"],"range":[25,583],"paddingInner":0.895,"paddingOuter":0},"axis":null},"text":{"field":"day","type":"nominal"}}},
{"data":{"name":"hdr"},"mark":{"type":"text","fontSize":34,"baseline":"middle","dx":-105},"encoding":{"x":{"field":"col","type":"nominal","scale":{"type":"band","domain":["c1","c2","c3","c4"],"range":[332,1166],"paddingInner":0.496,"paddingOuter":0},"axis":null},"y":{"field":"row","type":"nominal","scale":{"type":"band","domain":["U87","U251"],"range":[25,583],"paddingInner":0.895,"paddingOuter":0},"axis":null},"text":{"field":"letter","type":"nominal"}}},
{"data":{"name":"cells"},"mark":{"type":"rect","filled":false,"stroke":"black","strokeWidth":5},"encoding":{"x":{"datum":"box","type":"nominal","scale":{"type":"band","domain":["box"],"range":[105,183],"paddingInner":0,"paddingOuter":0},"axis":null},"y":{"field":"cell","type":"nominal","scale":{"type":"band","domain":["U87","U251"],"range":[93,1000],"paddingInner":0.175,"paddingOuter":0},"axis":null}}},
{"data":{"name":"cells"},"mark":{"type":"text","fontSize":30,"baseline":"middle","angle":270},"encoding":{"x":{"datum":"box","type":"nominal","scale":{"type":"band","domain":["box"],"range":[105,183],"paddingInner":0,"paddingOuter":0},"axis":null},"y":{"field":"cell","type":"nominal","scale":{"type":"band","domain":["U87","U251"],"range":[93,1000],"paddingInner":0.175,"paddingOuter":0},"axis":null},"text":{"field":"cell","type":"nominal"}}},
{"data":{"name":"tmzL"},"mark":{"type":"text","align":"left","baseline":"middle","fontSize":17},"encoding":{"x":{"field":"part","type":"nominal","scale":{"type":"point","domain":["name","dose"],"range":[128,230],"padding":0},"axis":null},"y":{"field":"factor","type":"nominal","scale":{"type":"point","domain":["TMZ","OTS964"],"range":[1030,1075],"padding":0},"axis":null},"text":{"field":"label","type":"nominal"}}},
{"data":{"name":"tmz"},"mark":{"type":"text","baseline":"middle","fontSize":18},"encoding":{"x":{"field":"group","type":"nominal","scale":{"type":"point","domain":["TMZ","OTS964","T&O"],"range":[327,449],"padding":0.5},"axis":null},"y":{"field":"factor","type":"nominal","scale":{"type":"point","domain":["TMZ","OTS964"],"range":[1030,1075],"padding":0},"axis":null},"text":{"field":"sign","type":"nominal"}}},
{"data":{"name":"tmz"},"mark":{"type":"text","baseline":"middle","fontSize":18},"encoding":{"x":{"field":"group","type":"nominal","scale":{"type":"point","domain":["TMZ","OTS964","T&O"],"range":[565,687],"padding":0.5},"axis":null},"y":{"field":"factor","type":"nominal","scale":{"type":"point","domain":["TMZ","OTS964"],"range":[1030,1075],"padding":0},"axis":null},"text":{"field":"sign","type":"nominal"}}},
{"data":{"name":"tmz"},"mark":{"type":"text","baseline":"middle","fontSize":18},"encoding":{"x":{"field":"group","type":"nominal","scale":{"type":"point","domain":["TMZ","OTS964","T&O"],"range":[803,925],"padding":0.5},"axis":null},"y":{"field":"factor","type":"nominal","scale":{"type":"point","domain":["TMZ","OTS964"],"range":[1030,1075],"padding":0},"axis":null},"text":{"field":"sign","type":"nominal"}}},
{"data":{"name":"tmz"},"mark":{"type":"text","baseline":"middle","fontSize":18},"encoding":{"x":{"field":"group","type":"nominal","scale":{"type":"point","domain":["TMZ","OTS964","T&O"],"range":[1041,1163],"padding":0.5},"axis":null},"y":{"field":"factor","type":"nominal","scale":{"type":"point","domain":["TMZ","OTS964"],"range":[1030,1075],"padding":0},"axis":null},"text":{"field":"sign","type":"nominal"}}},
{"data":{"name":"rules"},"transform":[{"filter":"datum.kind==='head'"}],"mark":{"type":"rule","strokeWidth":4,"strokeCap":"round","color":"black"},"encoding":{"x":{"field":"a","type":"quantitative","scale":{"domain":[0,1,2,3,4,5,6,7,8,9,10,11,12,13],"range":[5,184,198,360,377,514,529,657,671,805,821,1058,1073,1262],"nice":false,"zero":false},"axis":null},"x2":{"field":"b"},"y":{"field":"ln","type":"quantitative","scale":{"domain":[0,1,2,3,4,5,6,7,8,9,10,11,12,13,14,15,16,17,18,19,20,21,22,23,24,25],"range":[1160,1186.7,1211.7,1236.7,1274,1281.7,1287,1302,1393,1400,1420,1512.5,1517.5,1540.5,1576,1610.5,1617.5,1637.5,1663.3,1718,1727.5,1746.5,1767.3,1775,1793.3,1818.3],"nice":false,"zero":false},"axis":null}}},
{"data":{"name":"rules"},"transform":[{"filter":"datum.kind==='dash'"}],"mark":{"type":"rule","strokeWidth":4,"strokeDash":[12,5],"color":"black"},"encoding":{"x":{"field":"a","type":"quantitative","scale":{"domain":[0,1,2,3,4,5,6,7,8,9,10,11,12,13],"range":[5,184,198,360,377,514,529,657,671,805,821,1058,1073,1262],"nice":false,"zero":false},"axis":null},"x2":{"field":"b"},"y":{"field":"ln","type":"quantitative","scale":{"domain":[0,1,2,3,4,5,6,7,8,9,10,11,12,13,14,15,16,17,18,19,20,21,22,23,24,25],"range":[1160,1186.7,1211.7,1236.7,1274,1281.7,1287,1302,1393,1400,1420,1512.5,1517.5,1540.5,1576,1610.5,1617.5,1637.5,1663.3,1718,1727.5,1746.5,1767.3,1775,1793.3,1818.3],"nice":false,"zero":false},"axis":null}}},
{"data":{"name":"rules"},"transform":[{"filter":"datum.kind==='foot'"}],"mark":{"type":"rule","strokeWidth":4,"color":"black"},"encoding":{"x":{"field":"a","type":"quantitative","scale":{"domain":[0,1,2,3,4,5,6,7,8,9,10,11,12,13],"range":[5,184,198,360,377,514,529,657,671,805,821,1058,1073,1262],"nice":false,"zero":false},"axis":null},"x2":{"field":"b"},"y":{"field":"ln","type":"quantitative","scale":{"domain":[0,1,2,3,4,5,6,7,8,9,10,11,12,13,14,15,16,17,18,19,20,21,22,23,24,25],"range":[1160,1186.7,1211.7,1236.7,1274,1281.7,1287,1302,1393,1400,1420,1512.5,1517.5,1540.5,1576,1610.5,1617.5,1637.5,1663.3,1718,1727.5,1746.5,1767.3,1775,1793.3,1818.3],"nice":false,"zero":false},"axis":null}}},
{"data":{"name":"tbl"},"transform":[{"filter":"datum.sec==='letter'"}],"mark":{"type":"text","align":"left","baseline":"middle","fontSize":34,"dx":-4},"encoding":{"x":{"field":"col","type":"quantitative","scale":{"domain":[0,1,2,3,4,5,6],"range":[12,278,442,592,732,831,1168],"nice":false,"zero":false},"axis":null},"y":{"field":"ln","type":"quantitative","scale":{"domain":[0,1,2,3,4,5,6,7,8,9,10,11,12,13,14,15,16,17,18,19,20,21,22,23,24,25],"range":[1160,1186.7,1211.7,1236.7,1274,1281.7,1287,1302,1393,1400,1420,1512.5,1517.5,1540.5,1576,1610.5,1617.5,1637.5,1663.3,1718,1727.5,1746.5,1767.3,1775,1793.3,1818.3],"nice":false,"zero":false},"axis":null},"text":{"field":"text","type":"nominal"},"color":{"field":"tone","type":"nominal","scale":{"domain":["black","blue","orange","red","purple","brown"],"range":["#000000","#1a2cf5","#ff9a1a","#ff2a1a","#8e1a91","#a0703c"]},"legend":null}}},
{"data":{"name":"tbl"},"transform":[{"filter":"datum.sec==='head' && datum.col!==0 && datum.col!==5"}],"mark":{"type":"text","align":"center","baseline":"middle","fontSize":21.5},"encoding":{"x":{"field":"col","type":"quantitative","scale":{"domain":[0,1,2,3,4,5,6],"range":[12,278,442,592,732,831,1168],"nice":false,"zero":false},"axis":null},"y":{"field":"ln","type":"quantitative","scale":{"domain":[0,1,2,3,4,5,6,7,8,9,10,11,12,13,14,15,16,17,18,19,20,21,22,23,24,25],"range":[1160,1186.7,1211.7,1236.7,1274,1281.7,1287,1302,1393,1400,1420,1512.5,1517.5,1540.5,1576,1610.5,1617.5,1637.5,1663.3,1718,1727.5,1746.5,1767.3,1775,1793.3,1818.3],"nice":false,"zero":false},"axis":null},"text":{"field":"text","type":"nominal"},"color":{"field":"tone","type":"nominal","scale":{"domain":["black","blue","orange","red","purple","brown"],"range":["#000000","#1a2cf5","#ff9a1a","#ff2a1a","#8e1a91","#a0703c"]},"legend":null}}},
{"data":{"name":"tbl"},"transform":[{"filter":"datum.sec==='head' && (datum.col===0 || datum.col===5)"}],"mark":{"type":"text","align":"left","baseline":"middle","fontSize":21.5},"encoding":{"x":{"field":"col","type":"quantitative","scale":{"domain":[0,1,2,3,4,5,6],"range":[12,278,442,592,732,831,1168],"nice":false,"zero":false},"axis":null},"y":{"field":"ln","type":"quantitative","scale":{"domain":[0,1,2,3,4,5,6,7,8,9,10,11,12,13,14,15,16,17,18,19,20,21,22,23,24,25],"range":[1160,1186.7,1211.7,1236.7,1274,1281.7,1287,1302,1393,1400,1420,1512.5,1517.5,1540.5,1576,1610.5,1617.5,1637.5,1663.3,1718,1727.5,1746.5,1767.3,1775,1793.3,1818.3],"nice":false,"zero":false},"axis":null},"text":{"field":"text","type":"nominal"},"color":{"field":"tone","type":"nominal","scale":{"domain":["black","blue","orange","red","purple","brown"],"range":["#000000","#1a2cf5","#ff9a1a","#ff2a1a","#8e1a91","#a0703c"]},"legend":null}}},
{"data":{"name":"tbl"},"transform":[{"filter":"datum.sec==='label'"}],"mark":{"type":"text","align":"left","baseline":"middle","fontSize":24},"encoding":{"x":{"field":"col","type":"quantitative","scale":{"domain":[0,1,2,3,4,5,6],"range":[12,278,442,592,732,831,1168],"nice":false,"zero":false},"axis":null},"y":{"field":"ln","type":"quantitative","scale":{"domain":[0,1,2,3,4,5,6,7,8,9,10,11,12,13,14,15,16,17,18,19,20,21,22,23,24,25],"range":[1160,1186.7,1211.7,1236.7,1274,1281.7,1287,1302,1393,1400,1420,1512.5,1517.5,1540.5,1576,1610.5,1617.5,1637.5,1663.3,1718,1727.5,1746.5,1767.3,1775,1793.3,1818.3],"nice":false,"zero":false},"axis":null},"text":{"field":"text","type":"nominal"},"color":{"field":"tone","type":"nominal","scale":{"domain":["black","blue","orange","red","purple","brown"],"range":["#000000","#1a2cf5","#ff9a1a","#ff2a1a","#8e1a91","#a0703c"]},"legend":null}}},
{"data":{"name":"tbl"},"transform":[{"filter":"datum.sec==='body' && datum.col!==5"}],"mark":{"type":"text","align":"center","baseline":"middle","fontSize":21},"encoding":{"x":{"field":"col","type":"quantitative","scale":{"domain":[0,1,2,3,4,5,6],"range":[12,278,442,592,732,831,1168],"nice":false,"zero":false},"axis":null},"y":{"field":"ln","type":"quantitative","scale":{"domain":[0,1,2,3,4,5,6,7,8,9,10,11,12,13,14,15,16,17,18,19,20,21,22,23,24,25],"range":[1160,1186.7,1211.7,1236.7,1274,1281.7,1287,1302,1393,1400,1420,1512.5,1517.5,1540.5,1576,1610.5,1617.5,1637.5,1663.3,1718,1727.5,1746.5,1767.3,1775,1793.3,1818.3],"nice":false,"zero":false},"axis":null},"text":{"field":"text","type":"nominal"},"color":{"field":"tone","type":"nominal","scale":{"domain":["black","blue","orange","red","purple","brown"],"range":["#000000","#1a2cf5","#ff9a1a","#ff2a1a","#8e1a91","#a0703c"]},"legend":null}}},
{"data":{"name":"tbl"},"transform":[{"filter":"datum.sec==='body' && datum.col===5"}],"mark":{"type":"text","align":"left","baseline":"middle","fontSize":21},"encoding":{"x":{"field":"col","type":"quantitative","scale":{"domain":[0,1,2,3,4,5,6],"range":[12,278,442,592,732,831,1168],"nice":false,"zero":false},"axis":null},"y":{"field":"ln","type":"quantitative","scale":{"domain":[0,1,2,3,4,5,6,7,8,9,10,11,12,13,14,15,16,17,18,19,20,21,22,23,24,25],"range":[1160,1186.7,1211.7,1236.7,1274,1281.7,1287,1302,1393,1400,1420,1512.5,1517.5,1540.5,1576,1610.5,1617.5,1637.5,1663.3,1718,1727.5,1746.5,1767.3,1775,1793.3,1818.3],"nice":false,"zero":false},"axis":null},"text":{"field":"text","type":"nominal"},"color":{"field":"tone","type":"nominal","scale":{"domain":["black","blue","orange","red","purple","brown"],"range":["#000000","#1a2cf5","#ff9a1a","#ff2a1a","#8e1a91","#a0703c"]},"legend":null}}},
{"data":{"name":"tbl"},"transform":[{"filter":"datum.sec==='big'"}],"mark":{"type":"text","align":"left","baseline":"middle","fontSize":24},"encoding":{"x":{"field":"col","type":"quantitative","scale":{"domain":[0,1,2,3,4,5,6],"range":[12,278,442,592,732,831,1168],"nice":false,"zero":false},"axis":null},"y":{"field":"ln","type":"quantitative","scale":{"domain":[0,1,2,3,4,5,6,7,8,9,10,11,12,13,14,15,16,17,18,19,20,21,22,23,24,25],"range":[1160,1186.7,1211.7,1236.7,1274,1281.7,1287,1302,1393,1400,1420,1512.5,1517.5,1540.5,1576,1610.5,1617.5,1637.5,1663.3,1718,1727.5,1746.5,1767.3,1775,1793.3,1818.3],"nice":false,"zero":false},"axis":null},"text":{"field":"text","type":"nominal"},"color":{"field":"tone","type":"nominal","scale":{"domain":["black","blue","orange","red","purple","brown"],"range":["#000000","#1a2cf5","#ff9a1a","#ff2a1a","#8e1a91","#a0703c"]},"legend":null}}},
{"data":{"name":"arrows"},"mark":{"type":"point","filled":true,"size":2500,"opacity":1,"color":"black","strokeWidth":0},"encoding":{"x":{"field":"col","type":"quantitative","scale":{"domain":[0,1,2,3,4,5,6],"range":[12,278,442,592,732,831,1168],"nice":false,"zero":false},"axis":null},"y":{"field":"ln","type":"quantitative","scale":{"domain":[0,1,2,3,4,5,6,7,8,9,10,11,12,13,14,15,16,17,18,19,20,21,22,23,24,25],"range":[1160,1186.7,1211.7,1236.7,1274,1281.7,1287,1302,1393,1400,1420,1512.5,1517.5,1540.5,1576,1610.5,1617.5,1637.5,1663.3,1718,1727.5,1746.5,1767.3,1775,1793.3,1818.3],"nice":false,"zero":false},"axis":null},"shape":{"field":"arrow","type":"nominal","scale":{"domain":["down1","down2","thin","right","diag"],"range":["M-0.09,-1L0.09,-1L0.09,-0.6L0.56,-0.6L0,1L-0.56,-0.6L-0.09,-0.6Z","M-0.71,-1L-0.53,-1L-0.53,-0.6L-0.09,-0.6L-0.62,1L-1.15,-0.6L-0.71,-0.6Z M0.53,-1L0.71,-1L0.71,-0.6L1.15,-0.6L0.62,1L0.09,-0.6L0.53,-0.6Z","M-0.1,-0.96L0.1,-0.96L0.1,-0.19L0.44,-0.19L0,0.96L-0.44,-0.19L-0.1,-0.19Z","M-0.94,-0.1L-0.12,-0.1L-0.12,-0.44L0.94,0L-0.12,0.44L-0.12,0.1L-0.94,0.1Z","M-0.75,-0.608L-0.608,-0.75L-0.064,-0.205L0.177,-0.445L0.679,0.679L-0.445,0.177L-0.205,-0.064Z"]},"legend":null}}}
]
}
